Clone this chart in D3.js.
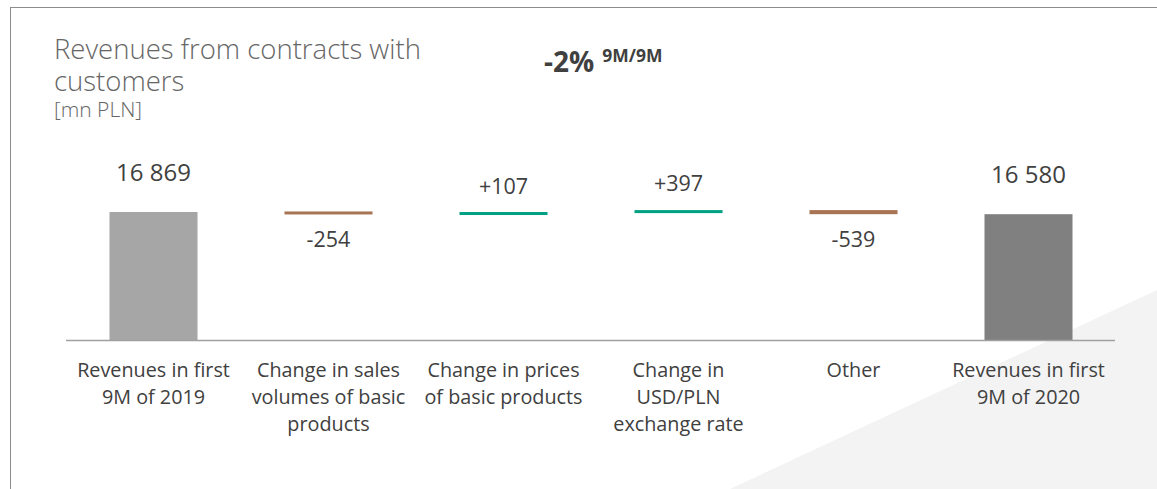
<!DOCTYPE html>
<html>
<head>
<meta charset="utf-8">
<script src="https://cdn.jsdelivr.net/npm/d3@7/dist/d3.min.js"></script>
<style>
  html, body { margin: 0; padding: 0; background: #fff; }
  svg { display: block; font-family: "Open Sans", "Noto Sans", sans-serif; }
</style>
</head>
<body>
<svg id="chart" width="1157" height="489"></svg>
<script>
// Revenue bridge, mn PLN
const categories = [
  ["Revenues in first", "9M of 2019"],
  ["Change in sales", "volumes of basic", "products"],
  ["Change in prices", "of basic products"],
  ["Change in", "USD/PLN", "exchange rate"],
  ["Other"],
  ["Revenues in first", "9M of 2020"]
];
const kinds = ["total", "delta", "delta", "delta", "delta", "total"];
const values = [16869, -254, 107, 397, -539, 16580];
const valueLabels = ["16 869", "-254", "+107", "+397", "-539", "16 580"];

const W = 1157, H = 489;
const svg = d3.select("#chart");

// background wedge bottom-right
svg.append("path")
  .attr("d", `M${W},290 L${W},${H} L730,${H} Z`)
  .attr("fill", "#f3f3f3");

// frame
svg.append("line").attr("x1", 10).attr("x2", W).attr("y1", 7.5).attr("y2", 7.5)
  .attr("stroke", "#8c8c8c").attr("stroke-width", 1);
svg.append("line").attr("x1", 10.5).attr("x2", 10.5).attr("y1", 7).attr("y2", H)
  .attr("stroke", "#8c8c8c").attr("stroke-width", 1);

// titles
const title = svg.append("text").attr("x", 54).attr("fill", "#666666")
  .style("font-size", "27.5px").style("font-weight", 300);
title.append("tspan").attr("x", 54).attr("y", 59).text("Revenues from contracts with");
title.append("tspan").attr("x", 54).attr("y", 91).text("customers");
svg.append("text").attr("x", 54).attr("y", 117).attr("fill", "#666666")
  .style("font-size", "21px").style("font-weight", 300).text("[mn PLN]");

const yoy = svg.append("text").attr("x", 544).attr("y", 72).attr("fill", "#404040")
  .style("font-weight", 700);
yoy.append("tspan").style("font-size", "28px").text("-2%");
yoy.append("tspan").attr("dx", 8).attr("dy", -10).style("font-size", "17.5px").text("9M/9M");

// waterfall geometry
let running = 0;
const steps = values.map((v, i) => {
  if (kinds[i] === "total") {
    running = v;
    return { i, start: 0, end: v, v };
  }
  const s = running;
  running += v;
  return { i, start: s, end: running, v };
});

const x = d3.scaleBand().domain(d3.range(values.length)).range([66, 1116]).paddingInner(0.497).paddingOuter(0.2485);
const y = d3.scaleLinear().domain([0, 16869]).range([340, 212]);

const colorOf = d => d.v < 0 && kinds[d.i] === "delta" ? "#a87454"
  : kinds[d.i] === "delta" ? "#00a082"
  : d.i === 0 ? "#a6a6a6" : "#808080";

const g = svg.append("g");
g.selectAll("rect").data(steps).join("rect")
  .attr("x", d => x(d.i))
  .attr("width", x.bandwidth())
  .attr("y", d => {
    const top = Math.min(y(d.start), y(d.end));
    const h = Math.abs(y(d.start) - y(d.end));
    return h < 3 && kinds[d.i] === "delta" ? (top + h / 2 - 1.5) : top;
  })
  .attr("height", d => Math.max(Math.abs(y(d.start) - y(d.end)), kinds[d.i] === "delta" ? 3 : 0))
  .attr("fill", colorOf);

// axis baseline
svg.append("line").attr("x1", 66).attr("x2", 1115).attr("y1", 340.5).attr("y2", 340.5)
  .attr("stroke", "#a0a0a0").attr("stroke-width", 1.5);

// value labels
g.selectAll("text.val").data(steps).join("text")
  .attr("class", "val")
  .attr("x", d => x(d.i) + x.bandwidth() / 2)
  .attr("y", d => {
    if (kinds[d.i] === "total") return y(d.end) - 31;
    const top = Math.min(y(d.start), y(d.end));
    const bot = Math.max(y(d.start), y(d.end));
    return d.v < 0 ? bot + 33 : top - 19;
  })
  .attr("text-anchor", "middle")
  .attr("fill", "#404040")
  .style("font-size", d => kinds[d.i] === "total" ? "24px" : "21.5px")
  .text(d => valueLabels[d.i]);

// category labels
const cl = svg.append("g").selectAll("text").data(categories).join("text")
  .attr("text-anchor", "middle")
  .attr("fill", "#404040")
  .style("font-size", "19.8px");
cl.each(function(lines, i) {
  d3.select(this).selectAll("tspan").data(lines).join("tspan")
    .attr("x", x(i) + x.bandwidth() / 2)
    .attr("y", (l, j) => 377 + j * 27)
    .text(l => l);
});
</script>
</body>
</html>
